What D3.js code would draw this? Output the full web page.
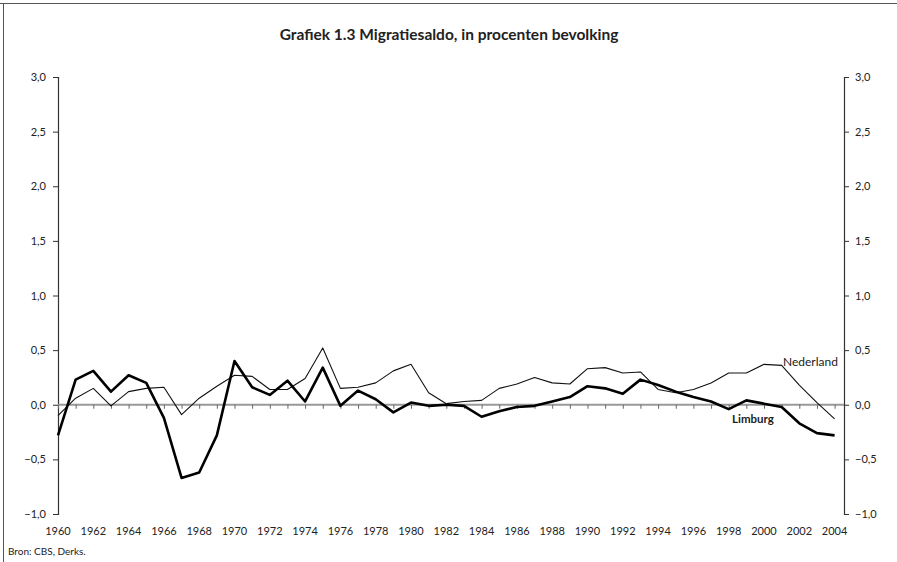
<!DOCTYPE html>
<html><head><meta charset="utf-8">
<script src="https://cdn.jsdelivr.net/npm/d3@7"></script>
<style>body{margin:0;background:#fff}svg{display:block}text{font-family:Lato,"Open Sans",sans-serif;fill:#222}</style>
</head><body><svg id="c" width="897" height="562"></svg>
<script>
const years = d3.range(1960, 2005);
const limburg = [-0.28,0.23,0.31,0.12,0.27,0.20,-0.12,-0.67,-0.62,-0.28,0.40,0.16,0.09,0.22,0.03,0.34,-0.01,0.13,0.05,-0.07,0.02,-0.01,0.00,-0.01,-0.11,-0.06,-0.02,-0.01,0.03,0.07,0.17,0.15,0.10,0.23,0.18,0.12,0.07,0.03,-0.04,0.04,0.01,-0.02,-0.17,-0.26,-0.28];
const nederland = [-0.10,0.06,0.15,-0.01,0.12,0.15,0.16,-0.09,0.06,0.17,0.27,0.26,0.14,0.14,0.24,0.52,0.15,0.16,0.20,0.31,0.37,0.11,0.01,0.03,0.04,0.15,0.19,0.25,0.20,0.19,0.33,0.34,0.29,0.30,0.14,0.11,0.14,0.20,0.29,0.29,0.37,0.36,0.18,0.02,-0.13];
const yTicks = [-1.0,-0.5,0.0,0.5,1.0,1.5,2.0,2.5,3.0];
const xLabels = d3.range(1960, 2005, 2);
const title = "Grafiek 1.3 Migratiesaldo, in procenten bevolking";
const source = "Bron: CBS, Derks.";

const svg = d3.select("#c");
const x = d3.scaleLinear().domain([1960, 2004]).range([58, 834.6]);
const y = d3.scaleLinear().domain([-1, 3]).range([514, 77]);
const fmt = v => d3.format(".1f")(v).replace(".", ",");

// frame
svg.append("line").attr("x1",0).attr("x2",897).attr("y1",3.5).attr("y2",3.5).attr("stroke","#555").attr("stroke-width",1);
svg.append("line").attr("x1",3.5).attr("x2",3.5).attr("y1",3).attr("y2",562).attr("stroke","#555").attr("stroke-width",1);

svg.append("text").attr("x",449).attr("y",40).attr("text-anchor","middle")
  .attr("font-size",15.5).attr("font-weight","bold").text(title);

// left axis
const gl = svg.append("g").attr("transform","translate(58,0)")
  .call(d3.axisLeft(y).tickValues(yTicks).tickFormat(v => fmt(v).replace("-","\u2212")).tickSize(5).tickPadding(7));
// right axis
const gr = svg.append("g").attr("transform","translate(844,0)")
  .call(d3.axisRight(y).tickValues(yTicks).tickFormat(fmt).tickSize(5).tickPadding(6));
[gl,gr].forEach(g=>{
  g.select(".domain").attr("stroke","#333").attr("stroke-width",1.2);
  g.selectAll(".tick line").attr("stroke","#333");
  g.selectAll(".tick text").attr("font-size",11).attr("fill","#222").attr("font-family","Lato, sans-serif");
});

// zero line with year ticks
const gz = svg.append("g").attr("transform",`translate(0,${y(0)})`)
  .call(d3.axisBottom(x).tickValues(years).tickFormat("").tickSize(4).tickSizeOuter(0));
gz.select(".domain").attr("stroke","#999").attr("stroke-width",1.8).attr("d",`M58,0H844`);
gz.selectAll(".tick line").attr("stroke","#666");

// x labels
svg.append("g").selectAll("text").data(xLabels).join("text")
  .attr("x", d => x(d)).attr("y", 535).attr("text-anchor","middle")
  .attr("font-size",11).text(d => d);

const line = d3.line().x((d,i)=>x(years[i])).y(d=>y(d));
svg.append("path").datum(nederland).attr("d",line).attr("fill","none").attr("stroke","#111").attr("stroke-width",1.1).attr("stroke-linejoin","round");
svg.append("path").datum(limburg).attr("d",line).attr("fill","none").attr("stroke","#000").attr("stroke-width",2.6).attr("stroke-linejoin","round");

svg.append("text").attr("x",783).attr("y",366).attr("font-size",12).text("Nederland");
svg.append("text").attr("x",732).attr("y",423).attr("font-size",11.5).attr("font-weight","bold").text("Limburg");

svg.append("text").attr("x",8).attr("y",555).attr("font-size",10).text(source);
</script></body></html>
